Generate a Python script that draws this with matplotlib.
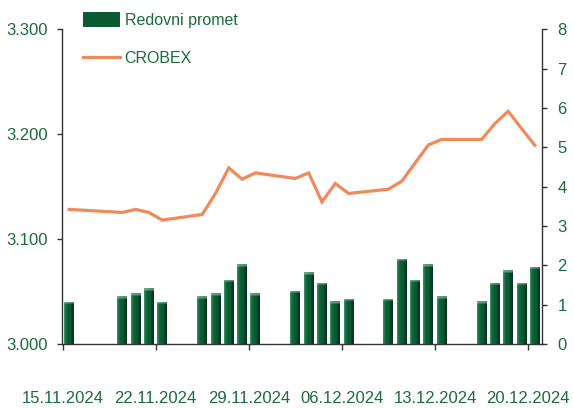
import numpy as np
import pandas as pd
import matplotlib
matplotlib.use('Agg')
import matplotlib.pyplot as plt
import matplotlib.dates as mdates
from matplotlib.ticker import FuncFormatter, MultipleLocator
from matplotlib.colors import to_rgb

# ─────────────────────────────────────────────
#  Podaci (očitano s grafikona)
# ─────────────────────────────────────────────

datumi = ['15.11.2024', '19.11.2024', '20.11.2024', '21.11.2024', '22.11.2024',
          '25.11.2024', '26.11.2024', '27.11.2024', '28.11.2024', '29.11.2024',
          '02.12.2024', '03.12.2024', '04.12.2024', '05.12.2024', '06.12.2024',
          '09.12.2024', '10.12.2024', '11.12.2024', '12.12.2024', '13.12.2024',
          '16.12.2024', '17.12.2024', '18.12.2024', '19.12.2024', '20.12.2024']

# redovni promet (desna os)
promet = [1.07, 1.22, 1.29, 1.42, 1.07,
          1.22, 1.29, 1.63, 2.03, 1.29,
          1.35, 1.83, 1.56, 1.09, 1.15,
          1.15, 2.17, 1.63, 2.03, 1.22,
          1.09, 1.56, 1.88, 1.56, 1.96]

# CROBEX (lijeva os)
crobex = [3128.3, 3125.4, 3128.3, 3125.4, 3118.1,
          3123.5, 3143.5, 3167.9, 3157.1, 3163.1,
          3157.8, 3163.1, 3135.5, 3153.0, 3143.5,
          3147.6, 3155.2, 3172.5, 3189.8, 3195.0,
          3195.0, 3210.2, 3221.9, 3205.4, 3189.5]

oznake_x = ['15.11.2024', '22.11.2024', '29.11.2024',
            '06.12.2024', '13.12.2024', '20.12.2024']

# ─────────────────────────────────────────────
#  Stil
# ─────────────────────────────────────────────

plt.rcParams['font.family'] = ['Liberation Sans', 'DejaVu Sans']

ZELENA = '#1b6b3e'
NARANCASTA = '#ef8a5c'
OS = '#333333'
FS = 12

dani = pd.to_datetime(datumi, format='%d.%m.%Y')
x = dani + pd.Timedelta(hours=12)   # stupci između kvačica

fig = plt.figure(figsize=(5.74, 4.08), dpi=100)
ax = fig.add_axes([62.5 / 574, 1 - 344 / 408, 479 / 574, (344 - 29.3) / 408])
ax2 = ax.twinx()

linija, = ax.plot(x, crobex, color=NARANCASTA, lw=2.3, label='CROBEX',
                  solid_joinstyle='miter', zorder=3)
stupci = ax2.bar(x, promet, width=0.75, color='#0b5a33',
                 label='Redovni promet', zorder=2)

# gradijent na stupcima (svjetliji lijevi rub, tamniji desni, svijetli vrh)
boje = np.array([to_rgb(c) for c in ['#3a9468', '#156b41', '#0c5b34', '#0c5b34', '#074425', '#03321b']])
xs = np.linspace(0, 1, len(boje))
stupac_x = np.linspace(0, 1, 40)
grad = np.stack([np.interp(stupac_x, xs, boje[:, k]) for k in range(3)], axis=-1)
for b in stupci:
    x0, h, w = b.get_x(), b.get_height(), b.get_width()
    redovi = max(int(round(h * 39.35)), 4)
    img = np.repeat(grad[None, :, :], redovi, axis=0)
    img[:2] = img[:2] * 0.45 + 0.55 * np.array(to_rgb('#9cc9b0'))
    img[2:3] = img[2:3] * 0.7 + 0.3 * np.array(to_rgb('#9cc9b0'))
    im = ax2.imshow(img, aspect='auto', extent=(x0, x0 + w, 0, h),
                    interpolation='bilinear', zorder=2.5)
    im.set_clip_path(b)

# ─────────────────────────────────────────────
#  Osi
# ─────────────────────────────────────────────

ax.set_xlim(pd.Timestamp('2024-11-15'), pd.Timestamp('2024-12-21'))
ax.set_ylim(3000, 3300)
ax2.set_ylim(0, 8)

ax.set_xticks(pd.to_datetime(oznake_x, format='%d.%m.%Y'))
ax.xaxis.set_major_formatter(mdates.DateFormatter('%d.%m.%Y'))
ax.yaxis.set_major_locator(MultipleLocator(100))
ax.yaxis.set_major_formatter(FuncFormatter(lambda v, p: f'{v:,.0f}'.replace(',', '.')))
ax2.yaxis.set_major_locator(MultipleLocator(1))

for a in (ax, ax2):
    a.spines['top'].set_visible(False)
    for s in a.spines.values():
        s.set_color(OS)
        s.set_linewidth(1.0)
ax.spines['right'].set_visible(False)
ax2.spines['left'].set_visible(False)
ax2.spines['bottom'].set_visible(False)

ax.tick_params(axis='y', direction='out', length=3.5, width=1, color=OS,
               labelcolor=ZELENA, labelsize=FS, pad=7)
ax.tick_params(axis='x', direction='out', length=4.5, width=1, color=OS,
               labelcolor=ZELENA, labelsize=FS, pad=29)
ax2.tick_params(axis='y', direction='out', length=3.5, width=1, color=OS,
                labelcolor=ZELENA, labelsize=FS, pad=8)

ax.patch.set_visible(False)
ax2.patch.set_visible(False)

leg = ax2.legend([stupci, linija], ['Redovni promet', 'CROBEX'],
                 loc='upper left', bbox_to_anchor=(83 / 574, 1 - 12 / 408),
                 bbox_transform=fig.transFigure, frameon=False, fontsize=11.5,
                 borderpad=0, borderaxespad=0, handlelength=2.3,
                 handleheight=1.05, handletextpad=0.3, labelspacing=1.4)
for t in leg.get_texts():
    t.set_color(ZELENA)

fig.savefig('out.png', dpi=100)
